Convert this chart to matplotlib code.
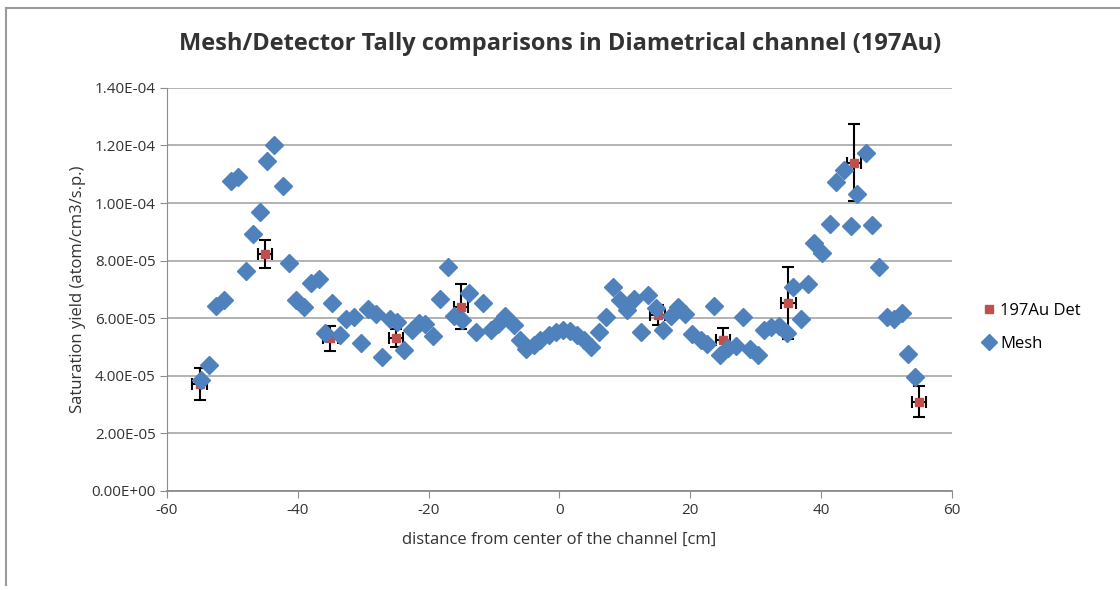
import numpy as np
import matplotlib
matplotlib.use('Agg')
import matplotlib.pyplot as plt
from matplotlib.lines import Line2D

# mesh tally values (x in cm, yield in 1e-5 atom/cm3/s.p.)
mesh_x = [-54.8, -53.5, -52.5, -51.25, -50.2, -49.1, -47.9, -46.9, -45.8, -44.7,
          -43.6, -42.3, -41.3, -40.3, -39.0, -38.0, -36.8, -35.9, -34.7, -33.5,
          -32.6, -31.4, -30.4, -29.3, -28.1, -27.1, -25.9, -24.8, -23.8, -22.6,
          -21.5, -20.5, -19.3, -18.3, -17.1, -16.1, -14.9, -13.85, -12.8, -11.65,
          -10.5, -9.4, -8.25, -7.0, -6.06, -5.04, -3.95, -2.9, -1.63, -0.6,
          0.57, 1.6, 2.7, 3.7, 4.84, 6.0, 7.18, 8.2, 9.2, 10.3,
          11.35, 12.4, 13.6, 14.8, 15.9, 17.05, 18.1, 19.25, 20.3, 21.6,
          22.5, 23.55, 24.5, 25.8, 26.97, 28.0, 29.2, 30.3, 31.3, 32.3,
          33.5, 34.8, 35.7, 36.9, 38.0, 38.9, 40.2, 41.4, 42.3, 43.5,
          44.6, 45.5, 46.8, 47.8, 48.9, 50.0, 51.1, 52.3, 53.2, 54.35]
mesh_y = [3.86, 4.38, 6.43, 6.63, 10.78, 10.9, 7.65, 8.93, 9.70, 11.47,
          12.03, 10.59, 7.91, 6.63, 6.40, 7.21, 7.35, 5.50, 6.52, 5.42,
          5.96, 6.05, 5.13, 6.31, 6.15, 4.64, 5.96, 5.88, 4.90, 5.59,
          5.82, 5.80, 5.38, 6.66, 7.77, 6.08, 5.94, 6.89, 5.53, 6.54,
          5.60, 5.80, 6.08, 5.77, 5.24, 4.92, 5.07, 5.24, 5.42, 5.53,
          5.60, 5.57, 5.42, 5.24, 5.01, 5.53, 6.05, 7.07, 6.63, 6.29,
          6.66, 5.53, 6.81, 6.35, 5.60, 6.08, 6.38, 6.15, 5.45, 5.24,
          5.10, 6.43, 4.72, 4.95, 5.03, 6.03, 4.92, 4.72, 5.59, 5.71,
          5.73, 5.50, 7.07, 5.96, 7.19, 8.60, 8.28, 9.27, 10.74, 11.15,
          9.20, 10.32, 11.75, 9.24, 7.77, 6.03, 5.96, 6.17, 4.76, 3.97]

# detector tally values with errors
det_x = [-55, -45, -35, -25, -15, 15, 25, 35, 45, 55]
det_y = [3.70, 8.23, 5.30, 5.31, 6.40, 6.11, 5.24, 6.52, 11.40, 3.10]
det_yerr = [0.56, 0.48, 0.43, 0.32, 0.78, 0.35, 0.43, 1.26, 1.33, 0.53]
det_xerr = [1.1] * len(det_x)

scale = 1e-5
mesh_y = np.array(mesh_y) * scale
det_y = np.array(det_y) * scale
det_yerr = np.array(det_yerr) * scale

plt.rcParams['font.family'] = ['Open Sans', 'DejaVu Sans']
plt.rcParams['axes.unicode_minus'] = False

fig = plt.figure(figsize=(11.2, 5.9), dpi=100)
ax = fig.add_axes([0.149, 0.168, 0.701, 0.683])

ax.errorbar(det_x, det_y, yerr=det_yerr, xerr=det_xerr, fmt='s', color='#C0504D',
            ms=5.5, ecolor='black', elinewidth=1.5, capsize=4, capthick=1.5, zorder=3)
ax.plot(mesh_x, mesh_y, 'D', color='#4F81BD', ms=9, mec='#4F81BD', zorder=4)

ax.set_xlim(-60, 60)
ax.set_ylim(0, 1.4e-4)
ax.set_xticks(np.arange(-60, 61, 20))
ax.set_yticks(np.arange(0, 1.41e-4, 2e-5))
ax.set_yticklabels(['%.2E' % v for v in np.arange(0, 1.41e-4, 2e-5)])
ax.yaxis.grid(True, color='#a6a6a6', lw=1.2)
ax.set_axisbelow(True)
for s in ['top', 'right']:
    ax.spines[s].set_visible(False)
ax.spines['left'].set_color('#8c8c8c')
ax.spines['bottom'].set_color('#8c8c8c')
ax.spines['bottom'].set_linewidth(1.3)
ax.tick_params(axis='both', colors='#8c8c8c', labelcolor='#333333', labelsize=11, length=5)
ax.tick_params(axis='y', pad=3)

ax.set_xlabel('distance from center of the channel [cm]', fontsize=12, color='#333333', labelpad=10)
ax.set_ylabel('Saturation yield (atom/cm3/s.p.)', fontsize=12, color='#333333')
fig.text(0.5, 0.925, 'Mesh/Detector Tally comparisons in Diametrical channel (197Au)',
         ha='center', va='center', fontsize=17, fontweight='bold', color='#333333')

handles = [Line2D([], [], ls='', marker='s', color='#C0504D', ms=6),
           Line2D([], [], ls='', marker='D', color='#4F81BD', ms=8)]
fig.legend(handles, ['197Au Det', 'Mesh'], loc='center left', bbox_to_anchor=(0.862, 0.445),
           frameon=False, fontsize=12, handletextpad=0.2, labelspacing=1.0, handlelength=1.0)

# chart border
fig.add_artist(Line2D([0.005, 0.005], [0.008, 0.986], color='#9a9a9a', lw=1.5, transform=fig.transFigure))
fig.add_artist(Line2D([0.005, 1.0], [0.986, 0.986], color='#9a9a9a', lw=1.5, transform=fig.transFigure))

fig.savefig('out.png', dpi=100)
